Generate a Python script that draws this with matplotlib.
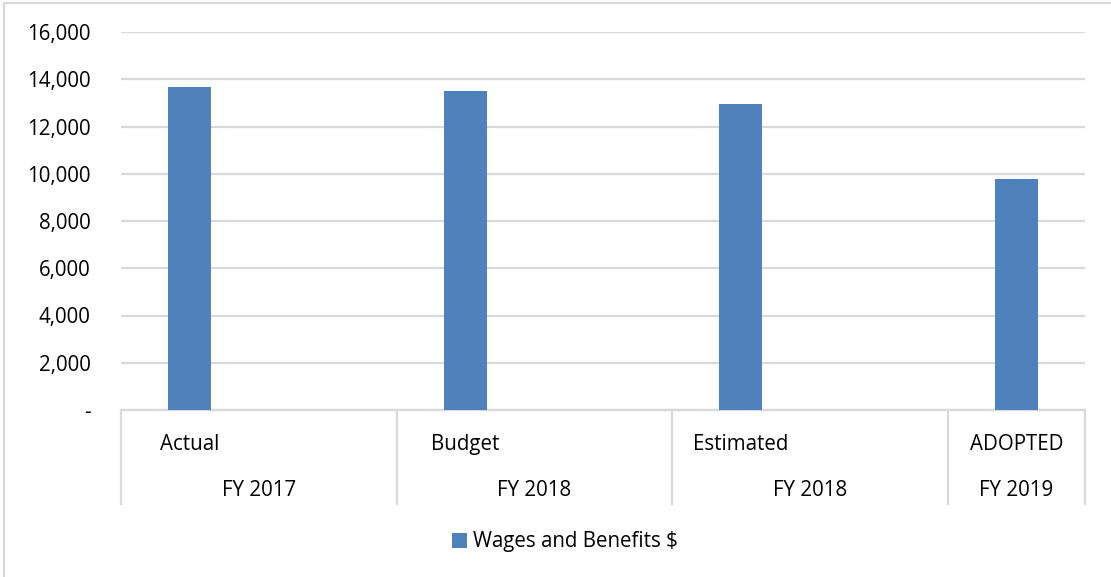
import matplotlib
matplotlib.use("Agg")
import matplotlib.pyplot as plt
from matplotlib.patches import Rectangle, Patch
from matplotlib.lines import Line2D
from matplotlib.ticker import FuncFormatter
import matplotlib.transforms as mtransforms

plt.rcParams['font.family'] = ['Open Sans', 'DejaVu Sans']

# ---- data ----
sub_labels = ["Actual", "Budget", "Estimated", "ADOPTED"]
year_labels = ["FY 2017", "FY 2018", "FY 2018", "FY 2019"]
values = [13660, 13520, 12960, 9790]
series_name = "Wages and Benefits $"
y_ticks = [0, 2000, 4000, 6000, 8000, 10000, 12000, 14000, 16000]

W, H = 1111, 577
fig = plt.figure(figsize=(W / 100, H / 100), dpi=100)
fig.patch.set_facecolor("white")

left, right, top, bottom = 121, 1085.3, 32, 410
ax = fig.add_axes([left / W, 1 - bottom / H, (right - left) / W, (bottom - top) / H])

bar_color = "#4F81BD"
grid_color = "#D9D9D9"
text_color = "#000000"
fs = 14.8

x = list(range(len(values)))
ax.bar(x, values, width=0.156, color=bar_color, zorder=3)

ax.set_xlim(-0.25, 3.25)
ax.set_ylim(0, 16000)
ax.set_yticks(y_ticks)
ax.yaxis.set_major_formatter(FuncFormatter(lambda v, p: "-" if v == 0 else f"{int(v):,}"))
ax.tick_params(axis='y', length=0, pad=22, labelsize=fs, labelcolor=text_color)
ax.set_xticks([])
ax.grid(axis='y', color=grid_color, linewidth=1.6, zorder=0)
for s in ["top", "right", "left"]:
    ax.spines[s].set_visible(False)
ax.spines["bottom"].set_color(grid_color)
ax.spines["bottom"].set_linewidth(1.6)

# multi-level category axis
trans = mtransforms.blended_transform_factory(ax.transData, ax.transAxes)
bounds = [-0.25, 0.75, 1.75, 2.75, 3.25]
for b in bounds:
    ax.add_line(Line2D([b, b], [0, -0.249], transform=trans, color=grid_color,
                       linewidth=1.6, clip_on=False))
for i, (s, yl) in enumerate(zip(sub_labels, year_labels)):
    ax.text(x[i], -0.090, s, transform=trans, ha="center", va="center",
            fontsize=fs, color=text_color)
    mid = (bounds[i] + bounds[i + 1]) / 2
    ax.text(mid, -0.212, yl, transform=trans, ha="center", va="center",
            fontsize=fs, color=text_color)

# legend
leg = fig.legend(handles=[Patch(facecolor=bar_color, label=series_name)],
                 loc="center", bbox_to_anchor=(565 / W, 1 - 542 / H),
                 frameon=False, fontsize=fs, handlelength=0.7, handleheight=0.7,
                 handletextpad=0.3)

# outer chart border (only top and left visible)
fig.add_artist(Rectangle((3.5 / W, -0.1), 1.2, 1.1 - 2.5 / H, transform=fig.transFigure,
                         fill=False, edgecolor=grid_color, linewidth=1.6))

fig.savefig("out.png", dpi=100, facecolor="white")
